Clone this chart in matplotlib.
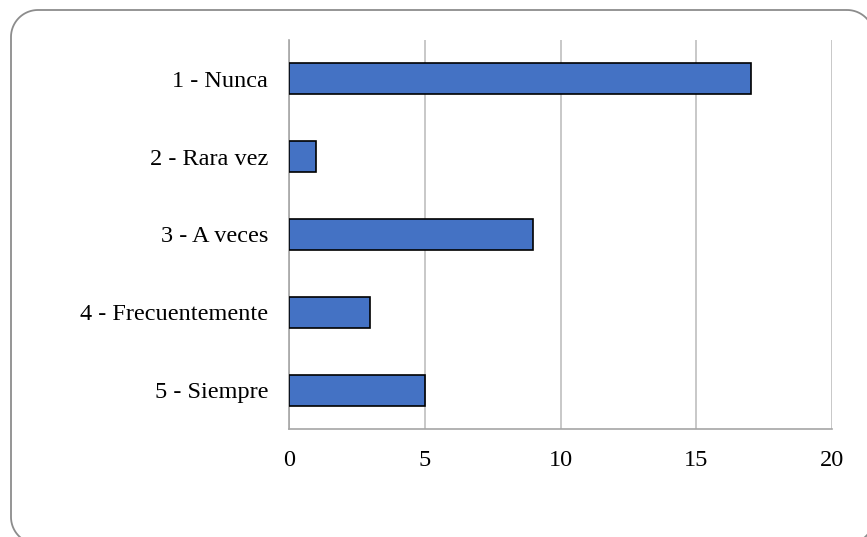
import matplotlib
matplotlib.use("Agg")
import matplotlib.pyplot as plt
import numpy as np
from matplotlib.patches import Polygon

categories = ["1 - Nunca", "2 - Rara vez", "3 - A veces", "4 - Frecuentemente", "5 - Siempre"]
values = [17, 1, 9, 3, 5]
xticks = [0, 5, 10, 15, 20]

plt.rcParams['font.family'] = ['Liberation Serif', 'DejaVu Serif']

W, H = 867, 537
fig = plt.figure(figsize=(W/100, H/100), dpi=100)
ax = fig.add_axes([289/W, 1-429/H, (832-289)/W, (429-40)/H])

y = list(range(len(categories)))
ax.barh(y, values, height=0.4, color='#4472C4', edgecolor='black', linewidth=1.2, zorder=3)
ax.set_ylim(len(categories)-0.5, -0.5)
ax.set_xlim(0, 20)
ax.set_xticks(xticks)
ax.set_xticklabels([str(t) for t in xticks])
ax.set_yticks(y)
ax.set_yticklabels(categories)
ax.tick_params(axis='both', length=0, labelsize=17.5, colors='black')
ax.tick_params(axis='x', pad=15)
ax.tick_params(axis='y', pad=15)
ax.grid(axis='x', color='#BFBFBF', linewidth=1.2, zorder=0)
ax.grid(axis='y', visible=False)
for s in ['top', 'right']:
    ax.spines[s].set_visible(False)
for s in ['left', 'bottom']:
    ax.spines[s].set_color('#A6A6A6')
    ax.spines[s].set_linewidth(1.2)

# rounded frame (pixel coords, y down), approximated by a polygon
x0, y0, x1, y1, r = 11, 10, 874, 544, 27
pts = []
corners = [((x1 - r, y0 + r), -90, 0), ((x1 - r, y1 - r), 0, 90),
           ((x0 + r, y1 - r), 90, 180), ((x0 + r, y0 + r), 180, 270)]
for (cx, cy), a0, a1 in corners:
    for a in np.linspace(np.radians(a0), np.radians(a1), 30):
        pts.append((cx + r*np.cos(a), cy + r*np.sin(a)))
pts = np.array(pts)
fig_pts = np.column_stack([pts[:, 0]/W, 1 - pts[:, 1]/H])
frame = Polygon(fig_pts, closed=True, transform=fig.transFigure,
                facecolor='none', edgecolor='#8C8C8C', linewidth=1.3)
fig.patches.append(frame)

fig.savefig("out.png", dpi=100)
